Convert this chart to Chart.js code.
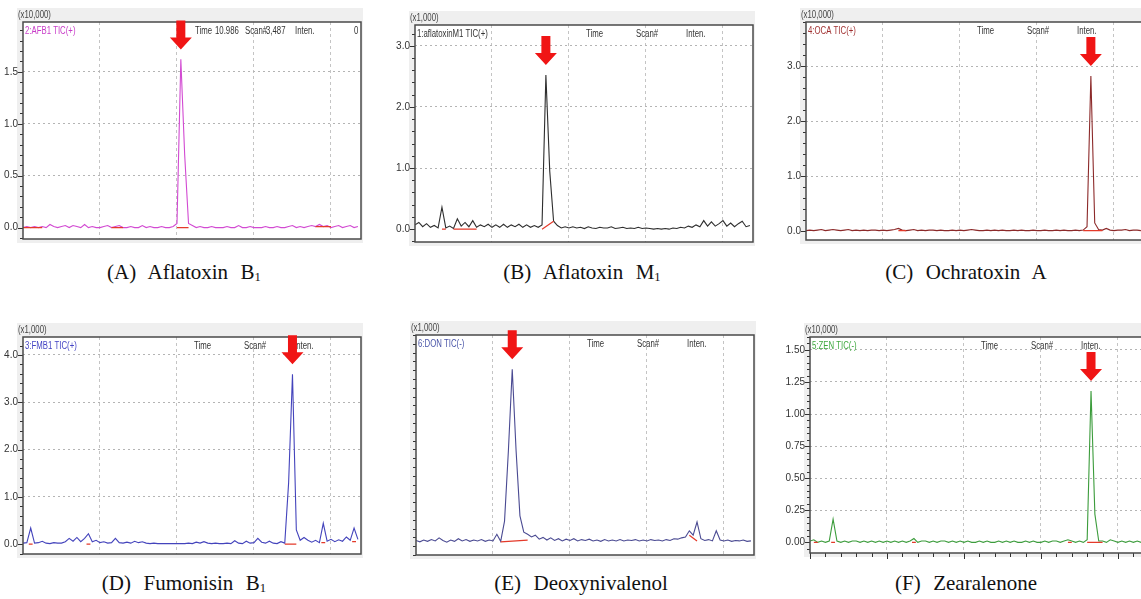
<!DOCTYPE html>
<html>
<head>
<meta charset="utf-8">
<script src="https://cdn.jsdelivr.net/npm/chart.js@4.4.1/dist/chart.umd.min.js"></script>
<style>
  body { margin: 0; width: 1141px; height: 599px; overflow: hidden; background: #fff; position: relative; }
  canvas { position: absolute; }
  .cap { position: absolute; font-family: 'Liberation Serif', 'Times New Roman', serif; font-size: 21px; word-spacing: 1px; color: #111; white-space: pre; transform: translateX(-50%); line-height: 24px; }
  .cap sub { font-size: 0.6em; vertical-align: -0.15em; line-height: 0; }
</style>
</head>
<body>
<canvas id="chartA" width="365" height="245" style="left:0px;top:0px"></canvas>
<canvas id="chartB" width="365" height="245" style="left:392px;top:3px"></canvas>
<canvas id="chartC" width="365" height="246" style="left:783px;top:0px"></canvas>
<canvas id="chartD" width="365" height="245" style="left:0px;top:315px"></canvas>
<canvas id="chartE" width="365" height="248" style="left:393px;top:313px"></canvas>
<canvas id="chartF" width="370" height="244" style="left:782px;top:315px"></canvas>

<div class="cap" style="left:184px;top:260px">(A)  Aflatoxin  B<sub>1</sub></div>
<div class="cap" style="left:582px;top:260px">(B)  Aflatoxin  M<sub>1</sub></div>
<div class="cap" style="left:966px;top:260px">(C)  Ochratoxin  A</div>
<div class="cap" style="left:184px;top:571px">(D)  Fumonisin  B<sub>1</sub></div>
<div class="cap" style="left:581px;top:571px">(E)  Deoxynivalenol</div>
<div class="cap" style="left:966px;top:571px">(F)  Zearalenone</div>

<script>
// intensity per scan (one value every 3.85 px of the time axis)
var intenA = [
  0.00, 0.01, 0.00, 0.01, 0.00, 0.01, 0.00, 0.03, 0.01, 0.00,
  0.01, 0.02, 0.00, 0.02, 0.01, 0.00, 0.03, 0.00, 0.01, 0.00,
  0.00, 0.01, 0.02, 0.00, 0.01, 0.02, 0.00, 0.00, 0.01, 0.00,
  0.00, 0.02, 0.00, 0.01, 0.00, 0.00, 0.01, 0.00, 0.00, 0.01,
  0.04, 1.62, 0.70, 0.04, 0.02, 0.00, 0.01, 0.00, 0.00, 0.01,
  0.00, 0.00, 0.00, 0.01, 0.00, 0.00, 0.02, 0.00, 0.00, 0.01,
  0.00, 0.00, 0.00, 0.01, 0.00, 0.00, 0.01, 0.00, 0.00, 0.01,
  0.02, 0.00, 0.01, 0.00, 0.01, 0.02, 0.01, 0.03, 0.01, 0.02,
  0.00, 0.01, 0.02, 0.00, 0.01, 0.02, 0.00, 0.01
]
var intenB = [
  0.07, 0.11, 0.04, 0.09, 0.03, 0.06, 0.02, 0.36, 0.02, 0.05,
  0.01, 0.17, 0.05, 0.11, 0.04, 0.14, 0.03, 0.07, 0.04, 0.08,
  0.03, 0.07, 0.03, 0.08, 0.03, 0.07, 0.04, 0.08, 0.03, 0.07,
  0.03, 0.06, 0.03, 0.07, 2.52, 0.95, 0.13, 0.06, 0.02, 0.04,
  0.02, 0.04, 0.02, 0.03, 0.01, 0.04, 0.02, 0.01, 0.03, 0.02,
  0.02, 0.04, 0.01, 0.02, 0.03, 0.01, 0.02, 0.01, 0.03, 0.01,
  0.02, 0.01, 0.00, 0.01, 0.00, 0.01, 0.00, 0.02, 0.01, 0.03,
  0.02, 0.05, 0.03, 0.07, 0.04, 0.14, 0.05, 0.12, 0.05, 0.09,
  0.14, 0.05, 0.10, 0.04, 0.09, 0.13, 0.04, 0.06
]
var intenC = [
  0.01, 0.02, 0.01, 0.02, 0.03, 0.01, 0.02, 0.03, 0.02, 0.01,
  0.02, 0.03, 0.01, 0.02, 0.01, 0.02, 0.01, 0.02, 0.02, 0.01,
  0.02, 0.01, 0.02, 0.03, 0.05, 0.02, 0.01, 0.02, 0.03, 0.01,
  0.02, 0.01, 0.02, 0.02, 0.01, 0.02, 0.01, 0.01, 0.02, 0.01,
  0.02, 0.01, 0.02, 0.03, 0.02, 0.01, 0.01, 0.02, 0.01, 0.02,
  0.01, 0.02, 0.01, 0.01, 0.02, 0.01, 0.02, 0.01, 0.01, 0.02,
  0.01, 0.01, 0.02, 0.01, 0.01, 0.02, 0.01, 0.02, 0.01, 0.01,
  0.02, 0.01, 0.02, 0.08, 2.82, 0.15, 0.03, 0.02, 0.05, 0.02,
  0.01, 0.02, 0.02, 0.03, 0.01, 0.02, 0.02, 0.01
]
var intenD = [
  0.02, 0.03, 0.34, 0.02, 0.03, 0.06, 0.02, 0.01, 0.03, 0.02,
  0.02, 0.05, 0.12, 0.06, 0.14, 0.05, 0.12, 0.22, 0.05, 0.08,
  0.03, 0.05, 0.02, 0.03, 0.12, 0.03, 0.02, 0.04, 0.02, 0.06,
  0.03, 0.05, 0.02, 0.01, 0.02, 0.01, 0.01, 0.01, 0.01, 0.01,
  0.01, 0.01, 0.01, 0.02, 0.01, 0.04, 0.02, 0.05, 0.02, 0.01,
  0.02, 0.01, 0.01, 0.02, 0.01, 0.07, 0.02, 0.01, 0.06, 0.02,
  0.03, 0.12, 0.04, 0.02, 0.06, 0.02, 0.01, 0.05, 0.02, 1.30,
  3.59, 0.30, 0.08, 0.14, 0.08, 0.04, 0.08, 0.03, 0.44, 0.06,
  0.10, 0.05, 0.09, 0.06, 0.15, 0.08, 0.34, 0.10
]
var intenE = [
  0.06, 0.03, 0.07, 0.04, 0.08, 0.05, 0.12, 0.06, 0.02, 0.07,
  0.04, 0.10, 0.05, 0.08, 0.04, 0.07, 0.05, 0.08, 0.04, 0.07,
  0.05, 0.20, 0.04, 0.50, 2.10, 3.95, 2.10, 0.62, 0.25, 0.20,
  0.14, 0.18, 0.09, 0.13, 0.07, 0.12, 0.06, 0.10, 0.05, 0.09,
  0.06, 0.10, 0.05, 0.08, 0.06, 0.09, 0.05, 0.07, 0.04, 0.08,
  0.05, 0.07, 0.05, 0.08, 0.05, 0.07, 0.06, 0.08, 0.05, 0.07,
  0.05, 0.08, 0.06, 0.07, 0.05, 0.08, 0.06, 0.10, 0.09, 0.12,
  0.14, 0.28, 0.18, 0.48, 0.10, 0.06, 0.08, 0.05, 0.28, 0.07,
  0.05, 0.07, 0.04, 0.06, 0.05, 0.07, 0.04, 0.05
]
var intenF = [
  0.01, 0.02, 0.00, 0.01, 0.00, 0.01, 0.18, 0.01, 0.00, 0.01,
  0.00, 0.01, 0.01, 0.00, 0.01, 0.00, 0.01, 0.00, 0.01, 0.00,
  0.01, 0.00, 0.01, 0.00, 0.01, 0.00, 0.01, 0.03, 0.00, 0.01,
  0.01, 0.00, 0.01, 0.00, 0.01, 0.01, 0.00, 0.01, 0.00, 0.01,
  0.00, 0.01, 0.00, 0.00, 0.01, 0.00, 0.01, 0.00, 0.00, 0.01,
  0.00, 0.01, 0.00, 0.01, 0.00, 0.00, 0.01, 0.00, 0.01, 0.00,
  0.00, 0.01, 0.00, 0.01, 0.01, 0.00, 0.01, 0.02, 0.01, 0.00,
  0.01, 0.00, 0.02, 1.18, 0.22, 0.01, 0.01, 0.00, 0.02, 0.01,
  0.00, 0.01, 0.00, 0.01, 0.00, 0.01, 0.00, 0.01
]

// red integration baselines: [fromScan, toScan, fromInten, toInten]
var redA = [[0, 5, 0, 0], [23, 26, 0, 0], [40, 43, 0, 0], [76, 80, 0.01, 0.01]]
var redB = [[7, 8, 0, 0], [10, 16, 0, 0], [33, 36, 0, 0.13]]
var redC = [[24, 26, 0.01, 0.01], [72, 77, 0.01, 0.01]]
var redD = [[1.5, 2.5, 0, 0], [16.5, 17.5, 0, 0], [68, 71, 0, 0], [77.5, 78.5, 0.03, 0.03], [85.5, 86.5, 0.05, 0.05]]
var redE = [[22, 29, 0.03, 0.07], [71, 73, 0.18, 0.05]]
var redF = [[1, 2, 0, 0], [5.5, 6.5, 0, 0], [26.5, 27.5, 0, 0], [67, 68, 0, 0], [72, 76, 0, 0]]

// header texts
var unitLabels = ['(x10,000)', '(x1,000)', '(x10,000)', '(x1,000)', '(x1,000)', '(x10,000)']
var traceNames = ['2:AFB1 TIC(+)', '1:aflatoxinM1 TIC(+)', '4:OCA TIC(+)', '3:FMB1 TIC(+)', '6:DON TIC(-)', '5:ZEN TIC(-)']
var infoA = [['Time', 172], ['10.986', 192], ['Scan#', 222], ['3,487', 243], ['Inten.', 272], ['0', 331]]
var infoStd = [['Time', 171], ['Scan#', 221], ['Inten.', 271]]

var narrow = "'Liberation Sans Narrow', 'Arial Narrow', 'Liberation Sans', sans-serif"

function isMajor (v, major) {
  var r = v / major
  return Math.abs(r - Math.round(r)) < 1e-6
}

// condensed small text, like the instrument software
function squeezed (c, text, x, y) {
  c.save()
  c.translate(x, y)
  c.scale(0.78, 1)
  c.fillText(text, 0, 0)
  c.restore()
}

var panelPlugin = {
  id: 'panel',
  beforeDraw: function (chart, args, o) {
    var c = chart.ctx
    var a = chart.chartArea
    c.save()
    c.fillStyle = '#efefef'
    c.fillRect(a.left - 6, a.top - 14, a.right - a.left + 8, a.bottom - a.top + 18)
    c.fillStyle = '#fff'
    c.fillRect(a.left, a.top, a.right - a.left, a.bottom - a.top)
    c.restore()
  },
  afterDraw: function (chart, args, o) {
    var c = chart.ctx
    var a = chart.chartArea
    c.save()
    // tick marks on the left axis (and bottom axis where the instrument shows them)
    c.strokeStyle = '#333'
    c.lineWidth = 1
    c.beginPath()
    chart.scales.y.ticks.forEach(function (t) {
      var py = Math.round(chart.scales.y.getPixelForValue(t.value)) + 0.5
      var len = isMajor(t.value, o.major) ? 5 : 3
      c.moveTo(a.left - len, py)
      c.lineTo(a.left, py)
    })
    if (o.bottomTicks) {
      chart.scales.x.ticks.forEach(function (t) {
        var px = Math.round(chart.scales.x.getPixelForValue(t.value)) + 0.5
        var len = isMajor(t.value, 20) ? 6 : 4
        c.moveTo(px, a.bottom)
        c.lineTo(px, a.bottom + len)
      })
    }
    c.stroke()
    // frame
    c.strokeStyle = '#4a4a4a'
    c.lineWidth = 1.5
    c.strokeRect(a.left, a.top, a.right - a.left, a.bottom - a.top)
    // texts
    c.font = '10px ' + narrow
    c.textBaseline = 'middle'
    c.fillStyle = '#444'
    squeezed(c, o.unit, a.left - 5, a.top - 7)
    c.fillStyle = o.nameColor
    squeezed(c, o.name, a.left + 2, a.top + 9)
    c.fillStyle = '#333'
    o.info.forEach(function (t) { squeezed(c, t[0], a.left + t[1], a.top + 9) })
    // arrow above the main peak
    var trace = chart.data.datasets[1].data
    var best = 0
    for (var i = 1; i < trace.length; i++) { if (trace[i].y > trace[best].y) best = i }
    var el = chart.getDatasetMeta(1).data[best]
    var tip = el.y - 10
    c.fillStyle = '#f01515'
    c.beginPath()
    c.moveTo(el.x - 4.5, tip - 29)
    c.lineTo(el.x + 4.5, tip - 29)
    c.lineTo(el.x + 4.5, tip - 12)
    c.lineTo(el.x + 11, tip - 12)
    c.lineTo(el.x, tip)
    c.lineTo(el.x - 11, tip - 12)
    c.lineTo(el.x - 4.5, tip - 12)
    c.closePath()
    c.fill()
    c.restore()
  }
}

function makeChart (id, trace, redSegs, o) {
  var tracePts = trace.map(function (v, i) { return { x: i, y: v } })
  var redPts = []
  redSegs.forEach(function (s) {
    redPts.push({ x: s[0], y: s[2] }, { x: s[1], y: s[3] }, { x: s[1], y: null })
  })
  var yWidth = o.yWidth || 23
  return new Chart(document.getElementById(id), {
    type: 'line',
    data: {
      datasets: [
        { data: redPts, borderColor: '#e43a2a', borderWidth: 1.2, pointRadius: 0, spanGaps: false },
        { data: tracePts, borderColor: o.color, borderWidth: 1.1, pointRadius: 0 }
      ]
    },
    options: {
      responsive: false,
      animation: false,
      layout: { padding: { top: 22, right: 4, left: 0, bottom: 0 } },
      plugins: {
        legend: { display: false },
        tooltip: { enabled: false },
        panel: { unit: o.unit, name: o.name, nameColor: o.nameColor, info: o.info, major: o.major, bottomTicks: !!o.xStep }
      },
      scales: {
        x: {
          type: 'linear',
          min: 0,
          max: 87.8,
          afterFit: function (s) { s.height = 6 },
          ticks: { display: false, stepSize: o.xStep || 20, includeBounds: false },
          border: { display: false, dash: [3, 3] },
          grid: {
            drawTicks: false,
            color: function (ctx) {
              if (!ctx.tick) return 'rgba(0,0,0,0)'
              return isMajor(ctx.tick.value, 20) && ctx.tick.value > 0 ? '#c4c4c4' : 'rgba(0,0,0,0)'
            }
          }
        },
        y: {
          min: o.min,
          max: o.max,
          afterFit: function (s) {
            s.width = yWidth
            s.paddingTop = 0
            s.paddingBottom = 0
          },
          ticks: {
            stepSize: o.minor,
            includeBounds: false,
            autoSkip: false,
            padding: 5,
            color: '#333',
            font: { family: narrow, size: 10 },
            callback: function (v) { return isMajor(v, o.major) ? v.toFixed(o.digits) : '' }
          },
          border: { display: false, dash: [2, 3] },
          grid: {
            drawTicks: false,
            color: function (ctx) {
              if (!ctx.tick) return 'rgba(0,0,0,0)'
              return isMajor(ctx.tick.value, o.major) && ctx.tick.value > 0 ? '#b4b4b4' : 'rgba(0,0,0,0)'
            }
          }
        }
      }
    },
    plugins: [panelPlugin]
  })
}

makeChart('chartA', intenA, redA, { color: '#d24ad2', nameColor: '#c83cc8', unit: unitLabels[0], name: traceNames[0], info: infoA, min: -0.11, max: 1.98, major: 0.5, minor: 0.1, digits: 1 })
makeChart('chartB', intenB, redB, { color: '#2e2e2e', nameColor: '#333', unit: unitLabels[1], name: traceNames[1], info: infoStd, min: -0.21, max: 3.34, major: 1, minor: 0.2, digits: 1 })
makeChart('chartC', intenC, redC, { color: '#8c2a2a', nameColor: '#a03030', unit: unitLabels[2], name: traceNames[2], info: infoStd, min: -0.16, max: 3.8, major: 1, minor: 0.2, digits: 1 })
makeChart('chartD', intenD, redD, { color: '#4444bc', nameColor: '#4444c4', unit: unitLabels[3], name: traceNames[3], info: infoStd, min: -0.21, max: 4.38, major: 1, minor: 0.2, digits: 1 })
makeChart('chartE', intenE, redE, { color: '#4a4a92', nameColor: '#4a55a8', unit: unitLabels[4], name: traceNames[4], info: infoStd, min: -0.27, max: 4.73, major: 1, minor: 0.2, digits: 1 })
makeChart('chartF', intenF, redF, { color: '#3c9c3c', nameColor: '#40a840', unit: unitLabels[5], name: traceNames[5], info: infoStd, min: -0.083, max: 1.6, major: 0.25, minor: 0.05, digits: 2, xStep: 4, yWidth: 28 })
</script>
</body>
</html>
